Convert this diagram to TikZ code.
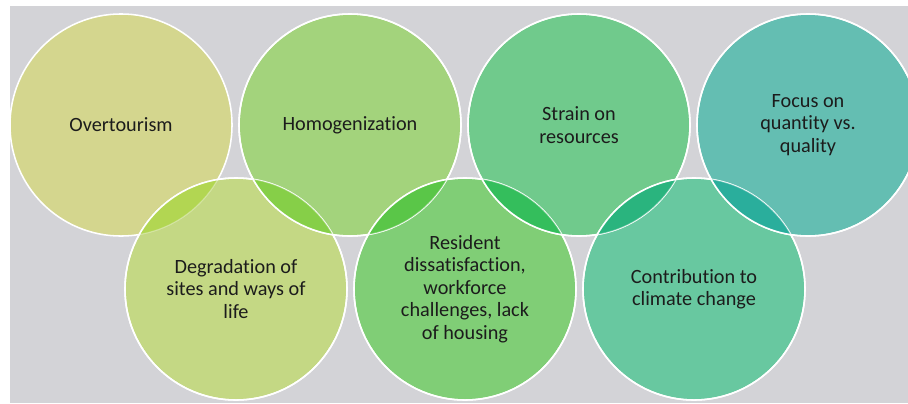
\documentclass[tikz,border=0pt]{standalone}
\usepackage{fontspec}
\setmainfont{Carlito}[Ligatures=NoCommon]
\usepackage{tikz}
\usetikzlibrary{positioning}
\definecolor{panel}{RGB}{211,211,215}
\definecolor{txt}{RGB}{28,28,28}
\definecolor{cOv}{RGB}{212,214,142}
\definecolor{cDeg}{RGB}{196,216,132}
\definecolor{cHom}{RGB}{163,211,124}
\definecolor{cRes}{RGB}{128,206,118}
\definecolor{cStr}{RGB}{112,202,140}
\definecolor{cCon}{RGB}{104,200,160}
\definecolor{cFoc}{RGB}{100,190,178}
\definecolor{lOvDeg}{RGB}{178,214,82}
\definecolor{lHomDeg}{RGB}{134,207,72}
\definecolor{lResHom}{RGB}{90,198,72}
\definecolor{lStrRes}{RGB}{52,190,92}
\definecolor{lConStr}{RGB}{42,180,126}
\definecolor{lFocCon}{RGB}{42,174,156}
\tikzset{
    bubble/.style={circle, draw=white, line width=1.1pt, minimum size=5.55cm,
                   inner sep=0pt, align=center, text=txt,
                   font=\fontsize{14.4}{15.9}\selectfont},
    rim/.style={draw=white, line width=1.1pt},
    faintrim/.style={draw=white, draw opacity=0.35, line width=0.8pt},
}

\begin{document}
\begin{tikzpicture}[x=0.025cm, y=-0.025cm]

    % page and grey panel
    \useasboundingbox (0,0) rectangle (908,403);
    \fill[white] (0,0) rectangle (908,403);
    \fill[panel] (10,6) rectangle (908,403);

    % bubbles, stacked zig-zag from left to right
    \node[bubble, fill=cOv]  at (121,125) (ov)  {Overtourism};
    \node[bubble, fill=cDeg] at (236,289) (deg) {Degradation of\\sites and ways of\\life};
    \node[bubble, fill=cHom] at (350,125) (hom) {Homogenization};
    \node[bubble, fill=cRes] at (465,289) (res) {Resident\\dissatisfaction,\\workforce\\challenges, lack\\of housing};
    \node[bubble, fill=cStr] at (579,125) (str) {Strain on\\resources};
    \node[bubble, fill=cCon] at (694,289) (con) {Contribution to\\climate change};
    \node[bubble, fill=cFoc] at (808,125) (foc) {Focus on\\quantity vs.\\quality};

    % overlaps: upper/lower/colour
    \foreach \up/\low/\col in {deg/ov/lOvDeg, hom/deg/lHomDeg, res/hom/lResHom,
                               str/res/lStrRes, con/str/lConStr, foc/con/lFocCon} {
        \begin{scope}
            \clip (\low.center) circle[radius=2.775cm];
            \fill[\col] (\up.center) circle[radius=2.775cm];
        \end{scope}
        \begin{scope}
            \clip (\up.center) circle[radius=2.775cm];
            \draw[faintrim] (\low.center) circle[radius=2.775cm];
        \end{scope}
        \draw[rim] (\up.center) circle[radius=2.775cm];
    }

\end{tikzpicture}
\end{document}
